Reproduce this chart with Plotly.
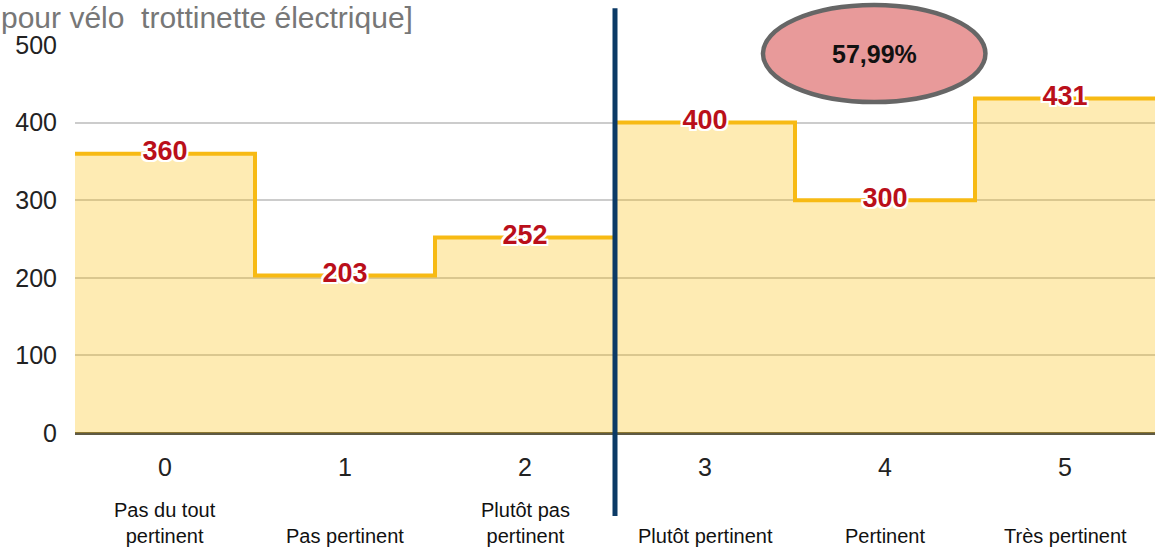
import plotly.graph_objects as go

categories = [0, 1, 2, 3, 4, 5]
values = [360, 203, 252, 400, 300, 431]
cat_labels = ["Pas du tout<br>pertinent", "Pas pertinent", "Plutôt pas<br>pertinent",
              "Plutôt pertinent", "Pertinent", "Très pertinent"]
y_ticks = [0, 100, 200, 300, 400, 500]
title_text = "pour vélo  trottinette électrique]"
badge_text = "57,99%"

# step outline spanning full category bands
x_step = [categories[0] - 0.5] + categories + [categories[-1] + 0.5]
y_step = [values[0]] + values + [values[-1]]

fig = go.Figure()
fig.add_trace(go.Scatter(
    x=x_step, y=y_step, mode="lines", line_shape="hvh",
    line=dict(color="#F7BA14", width=4),
    fill="tozeroy", fillcolor="rgba(251,188,4,0.30)",
    hoverinfo="skip", showlegend=False,
))
shadow = ("2px 0 0 white, -2px 0 0 white, 0 2px 0 white, 0 -2px 0 white, "
          "2px 2px 0 white, -2px -2px 0 white, 2px -2px 0 white, -2px 2px 0 white")
fig.add_trace(go.Scatter(
    x=categories, y=values, mode="text", text=[str(v) for v in values],
    textposition="middle center",
    textfont=dict(family="Liberation Sans, Arial", size=27, color="#BA0F1A",
                  weight="bold", shadow=shadow),
    showlegend=False, hoverinfo="skip", cliponaxis=False,
))

fig.update_layout(
    width=1165, height=549,
    margin=dict(l=75, r=10, t=45, b=116),
    plot_bgcolor="white", paper_bgcolor="white",
    font=dict(family="Liberation Sans, Arial", color="#222"),
    xaxis=dict(range=[-0.5, 5.5], tickvals=categories, ticktext=[str(c) for c in categories],
               showgrid=False, zeroline=False, showline=False, automargin=False,
               ticks="outside", ticklen=12, tickcolor="rgba(0,0,0,0)",
               tickfont=dict(size=25, color="#222")),
    yaxis=dict(range=[0, 500], tickvals=y_ticks, showgrid=True, gridcolor="#CCCCCC",
               gridwidth=1.5, zeroline=True, zerolinecolor="#5E5A44", zerolinewidth=2.5,
               automargin=False,
               ticks="outside", ticklen=12, tickcolor="rgba(0,0,0,0)",
               tickfont=dict(size=25, color="#222")),
)

for c, lab in zip(categories, cat_labels):
    fig.add_annotation(x=c, xref="x", y=-0.298, yref="paper", yanchor="bottom",
                       xanchor="center", text=lab, showarrow=False,
                       font=dict(size=20, color="#111", family="Liberation Sans, Arial"))

fig.add_annotation(x=-75 / 1080, xref="paper", xanchor="left", y=1 + 45 / 388, yref="paper",
                   yanchor="top", text=title_text, showarrow=False, borderpad=0,
                   font=dict(size=30, color="#777", family="Liberation Sans, Arial"))

# divider line between negative and positive answers
fig.add_shape(type="line", xref="paper", yref="paper", x0=0.5, x1=0.5,
              y0=-0.214, y1=1.095, line=dict(color="#0B3A66", width=5))

# badge
fig.add_shape(type="circle", xref="paper", yref="paper",
              x0=0.637, x1=0.843, y0=0.853, y1=1.103,
              fillcolor="#E89A9A", line=dict(color="#666", width=4.5))
fig.add_annotation(x=(0.637 + 0.843) / 2, y=(0.853 + 1.103) / 2, xref="paper", yref="paper",
                   xanchor="center", yanchor="middle",
                   text="<b>" + badge_text + "</b>", showarrow=False,
                   font=dict(size=25, color="#111", family="Liberation Sans, Arial"))

fig.write_html("out.html", config={"displayModeBar": False},
               post_script="document.body.style.margin='0';")
